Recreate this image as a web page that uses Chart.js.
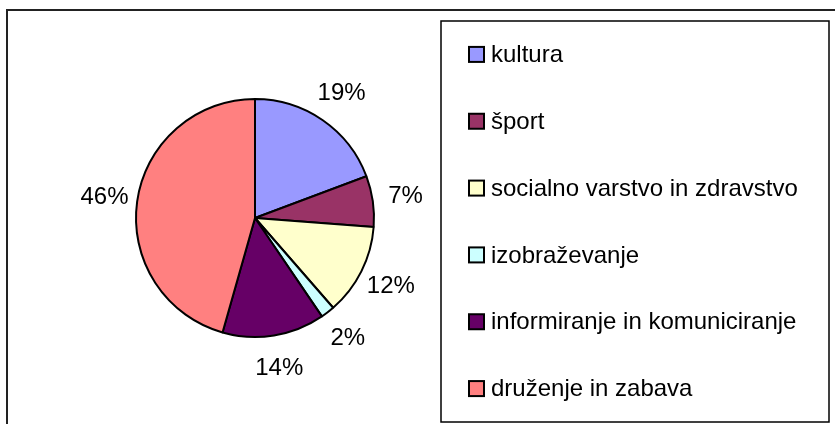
<!DOCTYPE html>
<html>
<head>
<meta charset="utf-8">
<script src="https://cdn.jsdelivr.net/npm/chart.js@4.4.0/dist/chart.umd.min.js"></script>
<style>
  body { margin: 0; background: #fff; }
  #wrap { width: 835px; height: 424px; }
</style>
</head>
<body>
<div id="wrap"><canvas id="pieChart" width="835" height="424"></canvas></div>
<script>
const categories = ['kultura', 'šport', 'socialno varstvo in zdravstvo', 'izobraževanje', 'informiranje in komuniciranje', 'druženje in zabava'];
const shares = [19.3, 6.9, 12.4, 1.9, 13.9, 45.6];
const colors = ['#9999FF', '#993366', '#FFFFCC', '#CCFFFF', '#660066', '#FF8080'];

const FONT = '24px "Liberation Sans", Arial, sans-serif';

// frame + legend box drawn by hand, Excel style
const framePlugin = {
  id: 'frame',
  beforeDraw(chart) {
    const ctx = chart.ctx;
    ctx.save();
    ctx.fillStyle = '#fff';
    ctx.fillRect(0, 0, chart.width, chart.height);
    // outer border (only top and left visible)
    ctx.strokeStyle = '#222';
    ctx.lineWidth = 2;
    ctx.beginPath();
    ctx.moveTo(7, chart.height + 5);
    ctx.lineTo(7, 10);
    ctx.lineTo(chart.width + 5, 10);
    ctx.stroke();
    ctx.restore();
  },
  afterDraw(chart) {
    const ctx = chart.ctx;
    const box = { left: 441, top: 21, right: 829, bottom: 422 };
    ctx.save();
    ctx.strokeStyle = '#000';
    ctx.lineWidth = 1.5;
    ctx.strokeRect(box.left, box.top, box.right - box.left, box.bottom - box.top);

    const slot = (box.bottom - box.top) / categories.length;
    ctx.font = FONT;
    ctx.textBaseline = 'middle';
    ctx.textAlign = 'left';
    categories.forEach((name, i) => {
      const cy = box.top + slot * i + slot / 2;
      ctx.fillStyle = colors[i];
      ctx.fillRect(469, cy - 7.5, 15, 15);
      ctx.strokeStyle = '#000';
      ctx.lineWidth = 2;
      ctx.strokeRect(469, cy - 7.5, 15, 15);
      ctx.fillStyle = '#000';
      ctx.fillText(name, 491, cy + 1);
    });
    ctx.restore();
  }
};

// percentage labels outside the slices
const percentPlugin = {
  id: 'percentLabels',
  afterDatasetsDraw(chart) {
    const ctx = chart.ctx;
    const meta = chart.getDatasetMeta(0);
    const values = chart.data.datasets[0].data;
    const total = values.reduce((a, b) => a + b, 0);
    ctx.save();
    ctx.font = FONT;
    ctx.fillStyle = '#000';
    ctx.textAlign = 'center';
    ctx.textBaseline = 'middle';
    meta.data.forEach((arc, i) => {
      const p = arc.getProps(['x', 'y', 'startAngle', 'endAngle', 'outerRadius'], true);
      const mid = (p.startAngle + p.endAngle) / 2;
      const dist = p.outerRadius + 33;
      const tx = p.x + Math.cos(mid) * dist;
      const ty = p.y + Math.sin(mid) * dist;
      ctx.fillText(Math.round(values[i] / total * 100) + '%', tx, ty);
    });
    ctx.restore();
  }
};

new Chart('pieChart', {
  type: 'pie',
  data: {
    labels: categories,
    datasets: [{
      data: shares,
      backgroundColor: colors,
      borderColor: '#000',
      borderWidth: 2
    }]
  },
  options: {
    responsive: false,
    animation: false,
    radius: 119,
    layout: { padding: { left: 10, right: 335, top: 22, bottom: 10 } },
    plugins: {
      legend: { display: false },
      tooltip: { enabled: false }
    }
  },
  plugins: [framePlugin, percentPlugin]
});
</script>
</body>
</html>
